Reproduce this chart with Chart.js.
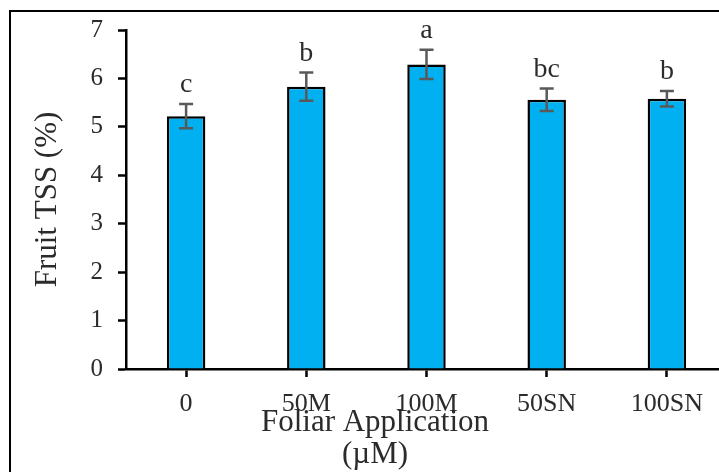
<!DOCTYPE html>
<html>
<head>
<meta charset="utf-8">
<script src="https://cdn.jsdelivr.net/npm/chart.js@4"></script>
<style>
  html, body { margin: 0; padding: 0; background: #fff; overflow: hidden; }
  #wrap { position: absolute; left: 0; top: 0; width: 740px; height: 490px; }
</style>
</head>
<body>
<div id="wrap"><canvas id="chart" width="740" height="490"></canvas></div>
<script>
// --- data ---
const categories = ["0", "50M", "100M", "50SN", "100SN"];
const tssValues = [5.22, 5.83, 6.29, 5.56, 5.58];
const tssErrors = [0.25, 0.29, 0.30, 0.23, 0.16];
const letters = ["c", "b", "a", "bc", "b"];
const yTicks = [0, 1, 2, 3, 4, 5, 6, 7];

const SERIF = "'Liberation Serif', 'Times New Roman', serif";
const TEXT = "#2b2b2b";

// white background + outer frame (runs off the right/bottom edge like the source)
const framePlugin = {
    id: "frame",
    beforeDraw(chart) {
        const ctx = chart.ctx;
        ctx.save();
        ctx.fillStyle = "#fff";
        ctx.fillRect(0, 0, chart.width, chart.height);
        ctx.strokeStyle = "#000";
        ctx.lineWidth = 2;
        ctx.strokeRect(10, 11, chart.width + 20, chart.height + 20);
        ctx.restore();
    }
};

// error bars + significance letters
const errorBarPlugin = {
    id: "errorBars",
    afterDatasetsDraw(chart) {
        const ctx = chart.ctx;
        const y = chart.scales.y;
        const meta = chart.getDatasetMeta(0);
        ctx.save();
        meta.data.forEach((bar, i) => {
            const top = y.getPixelForValue(tssValues[i] + tssErrors[i]);
            const bot = y.getPixelForValue(tssValues[i] - tssErrors[i]);
            ctx.strokeStyle = "#595959";
            ctx.lineWidth = 2.5;
            ctx.beginPath();
            ctx.moveTo(bar.x, top); ctx.lineTo(bar.x, bot);
            ctx.moveTo(bar.x - 7, top); ctx.lineTo(bar.x + 7, top);
            ctx.moveTo(bar.x - 7, bot); ctx.lineTo(bar.x + 7, bot);
            ctx.stroke();

            ctx.fillStyle = TEXT;
            ctx.font = "28px " + SERIF;
            ctx.textAlign = "center";
            ctx.textBaseline = "alphabetic";
            ctx.fillText(letters[i], bar.x, top - 12);
        });
        ctx.restore();
    }
};

// x axis title, two lines, centred under the figure rather than the axis
const xTitlePlugin = {
    id: "xTitle",
    afterDraw(chart) {
        const ctx = chart.ctx;
        const area = chart.chartArea;
        ctx.save();
        ctx.fillStyle = TEXT;
        ctx.font = "31px " + SERIF;
        ctx.textAlign = "center";
        ctx.textBaseline = "alphabetic";
        const cx = area.left + 249;
        ctx.fillText("Foliar Application", cx, area.bottom + 62);
        ctx.fillText("(\u00b5M)", cx, area.bottom + 94);
        ctx.restore();
    }
};

new Chart(document.getElementById("chart"), {
    type: "bar",
    data: {
        labels: categories,
        datasets: [{
            data: tssValues,
            backgroundColor: "#00B0F0",
            borderColor: "#000",
            borderWidth: 2.5,
            categoryPercentage: 1,
            barPercentage: 0.32
        }]
    },
    options: {
        responsive: false,
        animation: false,
        devicePixelRatio: 1,
        layout: { padding: { left: 12, top: 28, right: 13, bottom: 0 } },
        plugins: {
            legend: { display: false },
            tooltip: { enabled: false }
        },
        scales: {
            x: {
                afterFit: (s) => { s.height = 121; },
                grid: {
                    offset: false,
                    drawOnChartArea: false,
                    tickLength: 8,
                    tickWidth: 2.5,
                    tickColor: "#000"
                },
                border: { color: "#000", width: 2.5 },
                ticks: {
                    color: TEXT,
                    padding: 12,
                    maxRotation: 0,
                    font: { family: SERIF, size: 26 }
                }
            },
            y: {
                min: 0,
                max: 7,
                afterFit: (s) => { s.width = 114; },
                afterBuildTicks: (s) => { s.ticks = yTicks.map(v => ({ value: v })); },
                grid: {
                    drawOnChartArea: false,
                    tickLength: 8,
                    tickWidth: 2.5,
                    tickColor: "#000"
                },
                border: { color: "#000", width: 2.5 },
                ticks: {
                    color: TEXT,
                    padding: 15,
                    font: { family: SERIF, size: 25 }
                },
                title: {
                    display: true,
                    text: "Fruit TSS (%)",
                    color: TEXT,
                    padding: { top: 17, bottom: 0 },
                    font: { family: SERIF, size: 31 }
                }
            }
        }
    },
    plugins: [framePlugin, errorBarPlugin, xTitlePlugin]
});
</script>
</body>
</html>
